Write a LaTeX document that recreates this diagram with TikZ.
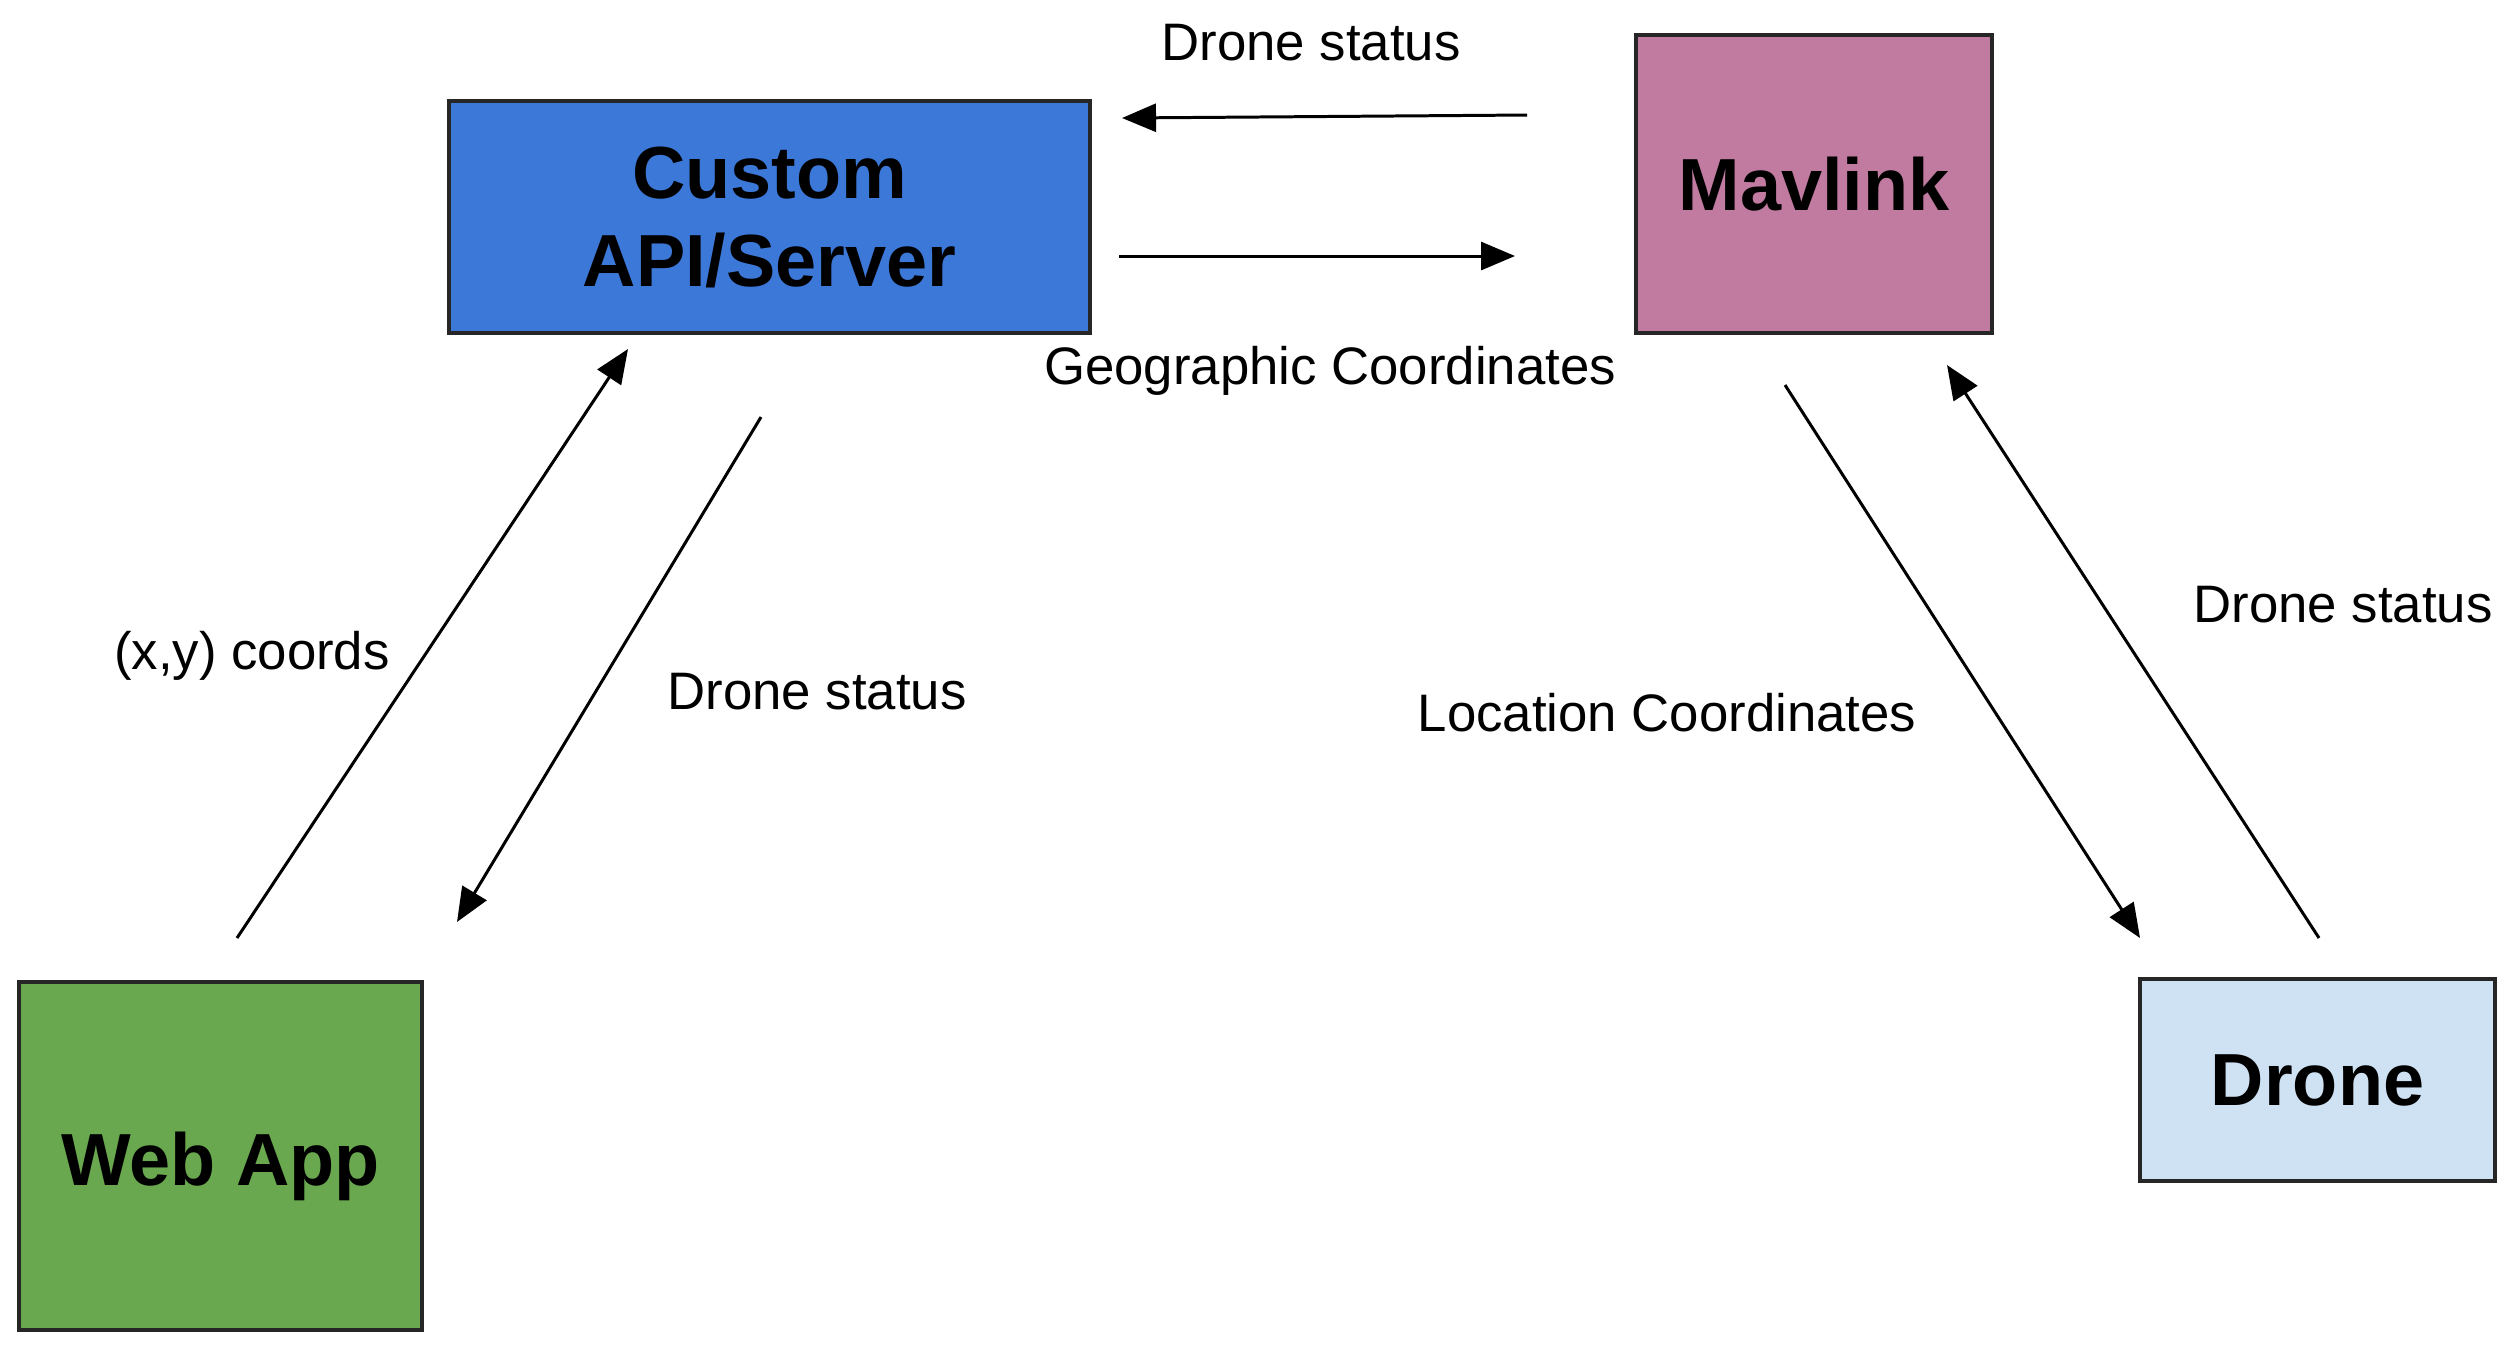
\documentclass[tikz,border=0pt]{standalone}
\usepackage{fontspec}
\setmainfont{Liberation Sans}
\usepackage{xcolor}
\usetikzlibrary{positioning}
\usetikzlibrary{arrows.meta}
\definecolor{apiblue}{HTML}{3C78D8}
\definecolor{mavpink}{HTML}{C27BA0}
\definecolor{webgreen}{HTML}{6AA84F}
\definecolor{dronesky}{HTML}{CFE2F3}

\begin{document}
\begin{tikzpicture}[x=0.01cm,y=-0.01cm,
   box/.style={draw=black!85,line width=1pt,font=\fontsize{21}{25}\selectfont\bfseries,align=center,inner sep=0pt},
   flow/.style={-{Triangle[length=0.34cm,width=0.28cm]},line width=0.85pt},
   lbl/.style={font=\fontsize{15}{18}\selectfont}]
   \useasboundingbox (0,0) rectangle (2513,1353);
   \node[box,fill=apiblue,minimum width=6.41cm,minimum height=2.32cm] (api) at (769.5,217) {Custom\\API/Server};
   \node[box,fill=mavpink,minimum width=3.56cm,minimum height=2.98cm] (mav) at (1814,184) {Mavlink};
   \node[box,fill=webgreen,minimum width=4.03cm,minimum height=3.48cm,text height=0.75cm] (web) at (220.5,1156) {Web App};
   \node[box,fill=dronesky,minimum width=3.55cm,minimum height=2.02cm] (drone) at (2317.5,1080) {Drone};
   % arrow ends
   \coordinate (m1) at (1527,115);  \coordinate (a1) at (1122,118);
   \coordinate (a2) at (1119,256);  \coordinate (m2) at (1515,256);
   \coordinate (w1) at (237,938);   \coordinate (a3) at (628,349);
   \coordinate (a4) at (761,417);   \coordinate (w2) at (457,922);
   \coordinate (m3) at (1785,385);  \coordinate (d1) at (2140,938);
   \coordinate (d2) at (2319,938);  \coordinate (m4) at (1947,365);
   \draw[flow] (m1) -- (a1);
   \draw[flow] (a2) -- (m2);
   \draw[flow] (w1) -- (a3);
   \draw[flow] (a4) -- (w2);
   \draw[flow] (m3) -- (d1);
   \draw[flow] (d2) -- (m4);
   \node[lbl] (s1) at (1311,43) {Drone status};
   \node[lbl] (geo) at (1330,371) {Geographic Coordinates};
   \node[lbl] (xy) at (252,656) {(x,y) coords};
   \node[lbl] (s2) at (817,692) {Drone status};
   \node[lbl] (loc) at (1667,713) {Location Coordinates};
   \node[lbl] (s3) at (2343,605) {Drone status};
 \end{tikzpicture}
\end{document}
